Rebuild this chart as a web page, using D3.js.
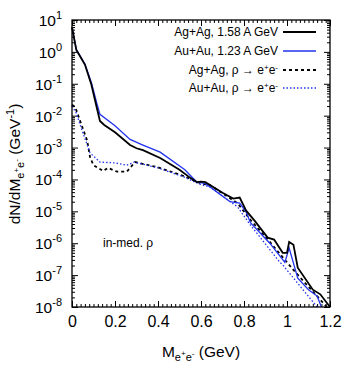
<!DOCTYPE html>
<html>
<head>
<meta charset="utf-8">
<script src="https://cdn.jsdelivr.net/npm/d3@7"></script>
<style>
  body { margin: 0; background: #fff; }
  text { font-family: "Liberation Sans", Arial, sans-serif; fill: #000; }
</style>
</head>
<body>
<svg class="chart"></svg>
<script>
var width = 360,
    height = 378;

// invariant mass (GeV) and dN/dM values
var agM   = [0, 0.02, 0.06, 0.09, 0.115, 0.13, 0.15, 0.2, 0.27, 0.3, 0.33, 0.41, 0.5, 0.55, 0.58, 0.6, 0.62, 0.7, 0.75, 0.78, 0.81, 0.85, 0.91, 0.94, 0.98, 1.0, 1.01, 1.03, 1.05, 1.12, 1.155, 1.2];
var agVal = [6.0, 1.15, 0.40, 0.095, 0.018, 0.0068, 0.0051, 0.0030, 0.0012, 0.00095, 0.00083, 0.00047, 0.00020, 0.000112, 0.000083, 0.000085, 0.000082, 0.000038, 0.000025, 0.000027, 0.0000105, 5e-6, 1.5e-6, 1.3e-6, 5e-7, 5e-7, 1.1e-6, 9e-7, 1.7e-7, 3.5e-8, 2.5e-8, 1e-8];

var auM   = [0, 0.02, 0.06, 0.09, 0.115, 0.13, 0.2, 0.27, 0.33, 0.41, 0.525, 0.58, 0.62, 0.735, 0.78, 0.81, 0.83, 0.92, 0.99, 1.01, 1.05, 1.1, 1.14, 1.16];
var auVal = [6.0, 1.2, 0.42, 0.11, 0.025, 0.011, 0.0048, 0.0018, 0.0012, 0.00072, 0.0002, 0.000083, 0.000075, 0.00002, 0.000018, 0.0000095, 4.4e-6, 1.0e-6, 2.5e-7, 7e-7, 8e-8, 3.5e-8, 2.2e-8, 1e-8];

var agRhoM   = [0, 0.015, 0.05, 0.07, 0.084, 0.1, 0.145, 0.167, 0.21, 0.255, 0.293, 0.395, 0.517, 0.6, 0.64, 0.77, 0.83, 0.92, 1.03, 1.185];
var agRhoVal = [0.022, 0.0185, 0.004, 0.0017, 0.0005, 0.00028, 0.000185, 0.00023, 0.000175, 0.000175, 0.00035, 0.000245, 0.00013, 0.000075, 0.000068, 0.000018, 5.4e-6, 1.1e-6, 1.45e-7, 1e-8];

var auRhoM   = [0, 0.02, 0.05, 0.084, 0.13, 0.2, 0.255, 0.29, 0.4, 0.52, 0.6, 0.64, 0.77, 0.83, 0.967, 0.98, 1.14];
var auRhoVal = [0.02, 0.012, 0.003, 0.00068, 0.00035, 0.00033, 0.00028, 0.00035, 0.00023, 0.00012, 0.000068, 0.000059, 0.0000138, 3.7e-6, 2.5e-7, 2.1e-7, 1e-8];

var xTicks = [0, 0.2, 0.4, 0.6, 0.8, 1, 1.2];
var yExps = [-8, -7, -6, -5, -4, -3, -2, -1, 0, 1];
var seriesNames = ["Ag+Ag, 1.58 A GeV", "Au+Au, 1.23 A GeV", "Ag+Ag, ρ → e", "Au+Au, ρ → e"];

var pLeft = 72, pRight = 330, pTop = 20, pBottom = 307;

var x = d3.scaleLinear().domain([0, 1.2]).range([pLeft, pRight]);
var y = d3.scaleLog().domain([1e-8, 10]).range([pBottom, pTop]);

var svg = d3.select(".chart")
    .attr("width", width)
    .attr("height", height);

// minor ticks
var xMinor = d3.range(0, 61).map(function(i) { return i * 0.02; });
var yMinor = [];
yExps.slice(0, -1).forEach(function(e) {
  for (var k = 2; k < 10; k++) yMinor.push(k * Math.pow(10, e));
});
var yMajor = yExps.map(function(e) { return Math.pow(10, e); });

function tickGroup(axis, tx) {
  var g = svg.append("g").attr("transform", tx).call(axis);
  g.select(".domain").remove();
  g.selectAll("line").attr("stroke", "#000").attr("stroke-width", 1);
  return g;
}

tickGroup(d3.axisBottom(x).tickValues(xMinor).tickSize(-3).tickFormat(""), "translate(0," + pBottom + ")");
tickGroup(d3.axisTop(x).tickValues(xMinor).tickSize(-3).tickFormat(""), "translate(0," + pTop + ")");
tickGroup(d3.axisTop(x).tickValues(xTicks).tickSize(-6).tickFormat(""), "translate(0," + pTop + ")");
var xg = tickGroup(d3.axisBottom(x).tickValues(xTicks).tickSize(-6).tickPadding(9)
    .tickFormat(function(d) { return d3.format("")(d); }), "translate(0," + pBottom + ")");
xg.selectAll("text").attr("font-size", 16).attr("font-family", "Liberation Sans, Arial, sans-serif").attr("fill", "#000");

tickGroup(d3.axisLeft(y).tickValues(yMinor).tickSize(-3).tickFormat(""), "translate(" + pLeft + ",0)");
tickGroup(d3.axisRight(y).tickValues(yMinor).tickSize(-3).tickFormat(""), "translate(" + pRight + ",0)");
tickGroup(d3.axisRight(y).tickValues(yMajor).tickSize(-6).tickFormat(""), "translate(" + pRight + ",0)");
tickGroup(d3.axisLeft(y).tickValues(yMajor).tickSize(-6).tickFormat(""), "translate(" + pLeft + ",0)");

// y tick labels with superscripts
var yl = svg.append("g").selectAll("text")
    .data(yExps)
  .enter().append("text")
    .attr("x", pLeft - 10)
    .attr("y", function(e) { return y(Math.pow(10, e)) + 6; })
    .attr("text-anchor", "end")
    .attr("font-size", 15.5);
yl.append("tspan").text("10");
yl.append("tspan").attr("dy", -7).attr("font-size", 11).text(function(e) { return e; });

// curves
var line = d3.line()
    .x(function(d) { return x(d[0]); })
    .y(function(d) { return y(d[1]); });

function draw(ms, vs, st) {
  svg.append("path")
      .datum(d3.zip(ms, vs))
      .attr("fill", "none")
      .attr("stroke", st.color)
      .attr("stroke-width", st.w)
      .attr("stroke-dasharray", st.dash)
      .attr("d", line);
}

var styles = [
  { color: "#000", w: 1.8, dash: null },
  { color: "#2233ee", w: 1.3, dash: null },
  { color: "#000", w: 1.8, dash: "3,3" },
  { color: "#2233ee", w: 1.3, dash: "1.5,2" }
];

draw(agRhoM, agRhoVal, styles[2]);
draw(auRhoM, auRhoVal, styles[3]);
draw(auM, auVal, styles[1]);
draw(agM, agVal, styles[0]);

// frame
svg.append("rect")
    .attr("x", pLeft).attr("y", pTop)
    .attr("width", pRight - pLeft).attr("height", pBottom - pTop)
    .attr("fill", "none").attr("stroke", "#000").attr("stroke-width", 1.3);

// legend
var rowY = [32, 51, 70, 88];
seriesNames.forEach(function(name, i) {
  var t = svg.append("text")
      .attr("x", 278).attr("y", rowY[i] + 4)
      .attr("text-anchor", "end")
      .attr("font-size", 12);
  t.append("tspan").text(name);
  if (i > 1) {
    t.append("tspan").attr("dy", -4).attr("font-size", 8).text("+");
    t.append("tspan").attr("dy", 4).text("e");
    t.append("tspan").attr("dy", -4).attr("font-size", 8).text("-");
  }
  svg.append("line")
      .attr("x1", 283).attr("x2", 316)
      .attr("y1", rowY[i]).attr("y2", rowY[i])
      .attr("stroke", styles[i].color)
      .attr("stroke-width", styles[i].w)
      .attr("stroke-dasharray", styles[i].dash);
});

// annotation
svg.append("text")
    .attr("x", 103).attr("y", 247)
    .attr("font-size", 12)
    .text("in-med. ρ");

// x axis title
var xt = svg.append("text")
    .attr("x", 201).attr("y", 357)
    .attr("text-anchor", "middle")
    .attr("font-size", 15.5);
xt.append("tspan").text("M");
xt.append("tspan").attr("dy", 4).attr("font-size", 11).text("e");
xt.append("tspan").attr("dy", -5).attr("font-size", 8).text("+");
xt.append("tspan").attr("dy", 5).attr("font-size", 11).text("e");
xt.append("tspan").attr("dy", -5).attr("font-size", 8).text("-");
xt.append("tspan").attr("dy", 1).text(" (GeV)");

// y axis title
var yt = svg.append("text")
    .attr("transform", "translate(20," + 164 + ") rotate(-90)")
    .attr("text-anchor", "middle")
    .attr("font-size", 15.5);
yt.append("tspan").text("dN/dM");
yt.append("tspan").attr("dy", 4).attr("font-size", 11).text("e");
yt.append("tspan").attr("dy", -5).attr("font-size", 8).text("+");
yt.append("tspan").attr("dy", 5).attr("font-size", 11).text("e");
yt.append("tspan").attr("dy", -5).attr("font-size", 8).text("-");
yt.append("tspan").attr("dy", 1).text(" (GeV");
yt.append("tspan").attr("dy", -6).attr("font-size", 11).text("-1");
yt.append("tspan").attr("dy", 6).text(")");
</script>
</body>
</html>
